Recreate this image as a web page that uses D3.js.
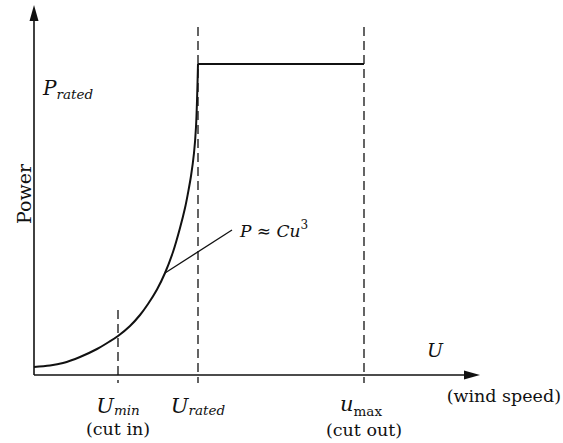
<!DOCTYPE html>
<html><head><meta charset="utf-8">
<script src="https://cdn.jsdelivr.net/npm/d3@7"></script>
<style>
body{margin:0;background:#fff;}
text{font-family:"DejaVu Serif","Liberation Serif",serif;fill:#111;}
</style></head>
<body>
<svg id="c" width="563" height="443"></svg>
<script>
// Power curve (wind speed units, power units)
const windSpeed = [0, 0.8, 1.45, 2.3, 3.15, 3.7, 4.2, 4.8, 5.3, 5.7, 6.15, 6.55, 6.95, 7.3, 7.55, 7.7, 7.85, 8.0, 8.1, 8.2];
const power     = [0.8, 0.95, 1.2, 1.8, 2.6, 3.25, 3.9, 4.9, 6.0, 7.1, 8.55, 10.2, 12.3, 14.7, 16.7, 18.2, 19.9, 22.2, 24.8, 31.1];
const uMin = 4.2, uRated = 8.2, uMax = 16.5, pRated = 31.1;
const xMax = 22.3, yMax = 37;
const dashTop = 34.8, dashBottom = -0.8;
const leader = [[6.55, 10.2], [9.9, 14.5]];

const svg = d3.select("#c");
const x = d3.scaleLinear().domain([0, xMax]).range([34, 480]);
const y = d3.scaleLinear().domain([0, yMax]).range([375, 5]);
const line = d3.line().x(d => x(d[0])).y(d => y(d[1]));

// axes
svg.append("path").attr("d", line([[0,0],[xMax - 0.75,0]])).attr("stroke","#111").attr("stroke-width",1.6).attr("fill","none");
svg.append("path").attr("d", line([[0,0],[0,yMax - 1.5]])).attr("stroke","#111").attr("stroke-width",1.6).attr("fill","none");
// arrow heads
svg.append("path").attr("d", `M${x(xMax)},${y(0)} L${x(xMax)-16},${y(0)-4.5} L${x(xMax)-16},${y(0)+4.5}Z`).attr("fill","#111");
svg.append("path").attr("d", `M${x(0)},${y(yMax)} L${x(0)-4.5},${y(yMax)+16} L${x(0)+4.5},${y(yMax)+16}Z`).attr("fill","#111");

// dashed verticals
svg.append("path").attr("d", line([[uMin, 6.5],[uMin, dashBottom]])).attr("stroke","#111").attr("stroke-width",1.3).attr("stroke-dasharray","9,5").attr("fill","none");
[uRated, uMax].forEach(u => {
  svg.append("path").attr("d", line([[u, dashTop],[u, dashBottom]])).attr("stroke","#111").attr("stroke-width",1.3).attr("stroke-dasharray","9,5").attr("fill","none");
});

// power curve
const pts = windSpeed.map((u,i) => [u, power[i]]);
svg.append("path").attr("d", d3.line().x(d=>x(d[0])).y(d=>y(d[1])).curve(d3.curveCatmullRom.alpha(0.5))(pts))
  .attr("stroke","#111").attr("stroke-width",2).attr("fill","none");
// rated flat line
svg.append("path").attr("d", line([[uRated, pRated],[uMax, pRated]])).attr("stroke","#111").attr("stroke-width",2).attr("fill","none");
// leader
svg.append("path").attr("d", line(leader)).attr("stroke","#111").attr("stroke-width",1.3).attr("fill","none");

// texts
function rich(xp, yp, parts, anchor){
  const t = svg.append("text").attr("x", xp).attr("y", yp).attr("text-anchor", anchor||"start");
  parts.forEach(p => {
    const s = t.append("tspan").text(p.t).style("font-size", p.s + "px");
    if (p.i) s.style("font-style","italic");
    if (p.dy) s.attr("dy", p.dy);
  });
  return t;
}
rich(43, 95, [{t:"P", s:20, i:true},{t:"rated", s:13.5, i:true, dy:4}]);
svg.append("text").attr("transform","translate(31,194) rotate(-90)").attr("text-anchor","middle").style("font-size","19px").text("Power");
rich(240, 237, [{t:"P", s:17, i:true},{t:" ≈ ", s:17},{t:"Cu", s:17, i:true},{t:"3", s:12, dy:-8}]);
rich(427, 357, [{t:"U", s:19, i:true}]);
svg.append("text").attr("x", 561).attr("y", 402).attr("text-anchor","end").style("font-size","17.5px").text("(wind speed)");
rich(x(uMin), 413, [{t:"U", s:21, i:true},{t:"min", s:13.5, i:true, dy:2}], "middle");
svg.append("text").attr("x", x(uMin)).attr("y", 435).attr("text-anchor","middle").style("font-size","17.5px").text("(cut in)");
rich(x(uRated), 413, [{t:"U", s:21, i:true},{t:"rated", s:13.5, i:true, dy:2}], "middle");
rich(x(uMax) - 3, 411, [{t:"u", s:21, i:true},{t:"max", s:13.5, dy:5}], "middle");
svg.append("text").attr("x", x(uMax)).attr("y", 436).attr("text-anchor","middle").style("font-size","17.5px").text("(cut out)");
</script>
</body></html>
